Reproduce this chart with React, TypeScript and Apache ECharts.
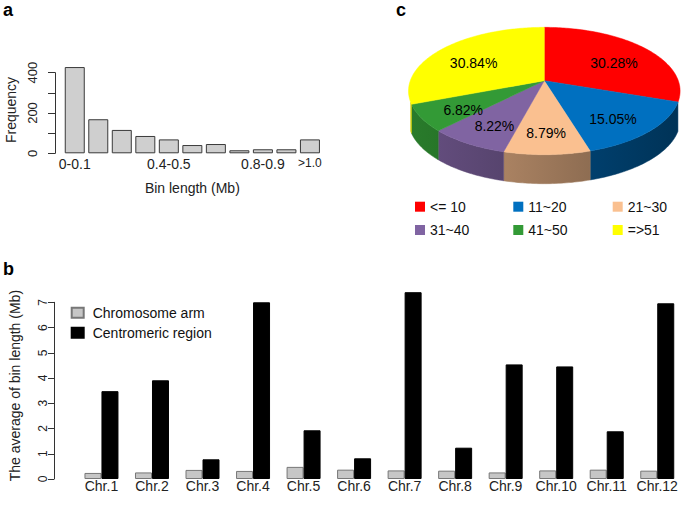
import React, { useEffect, useRef } from "react";
import * as echarts from "echarts";

// ---------- Panel a: histogram of bin lengths ----------
const binCategories = [
  "0-0.1", "0.1-0.2", "0.2-0.3", "0.3-0.4", "0.4-0.5", "0.5-0.6",
  "0.6-0.7", "0.7-0.8", "0.8-0.9", "0.9-1.0", ">1.0",
];
const binFrequency = [428, 169, 116, 86, 69, 41, 46, 15, 20, 20, 69];
const binLabelShown = ["0-0.1", "0.4-0.5", "0.8-0.9", ">1.0"];
const freqTicks = [0, 200, 400];

// ---------- Panel b: average bin length per chromosome ----------
const chromosomes = [
  "Chr.1", "Chr.2", "Chr.3", "Chr.4", "Chr.5", "Chr.6",
  "Chr.7", "Chr.8", "Chr.9", "Chr.10", "Chr.11", "Chr.12",
];
const armLength = [0.24, 0.26, 0.36, 0.32, 0.48, 0.37, 0.34, 0.33, 0.26, 0.34, 0.37, 0.33];
const centromericLength = [3.48, 3.91, 0.78, 7.0, 1.93, 0.82, 7.4, 1.24, 4.54, 4.46, 1.89, 6.96];

// ---------- Panel c: 3D pie ----------
const classNames = ["<= 10", "11~20", "21~30", "31~40", "41~50", "=>51"];
const classShares = [30.28, 15.05, 8.79, 8.22, 6.82, 30.84];
const classColors = ["#FF0000", "#0070C0", "#FAC090", "#8064A2", "#339A36", "#FFFF00"];

const FONT = "'Liberation Sans', Arial, Helvetica, sans-serif";

// pseudo-perspective projection of the pie disk
const PIE = { cx: 544.3, cy: 80.7, A: 134, B: 62, k: 0.162, D: 29, wallK: 0.33 };
function project(theta: number, r: number): [number, number] {
  const u = r * Math.sin(theta);
  const v = -r * Math.cos(theta);
  const d = 1 - PIE.k * v;
  return [PIE.cx + (PIE.A * u) / d, PIE.cy + (PIE.B * v) / d];
}
function hexToRgb(h: string) {
  const n = parseInt(h.slice(1), 16);
  return [(n >> 16) & 255, (n >> 8) & 255, n & 255];
}
function shade(hex: string, x: number) {
  let f = 0.8 - (0.35 * (x - 410)) / 270;
  f = Math.max(0.4, Math.min(0.85, f));
  const [r, g, b] = hexToRgb(hex);
  return `rgb(${Math.round(r * f)},${Math.round(g * f)},${Math.round(b * f)})`;
}

export default function App() {
  const ref = useRef<HTMLDivElement>(null);
  useEffect(() => {
    if (!ref.current) return;
    const chart = echarts.init(ref.current, undefined, { renderer: "svg" });

    const total = classShares.reduce((s, v) => s + v, 0);
    const spans: number[][] = [];
    let acc = 0;
    classShares.forEach((v) => {
      const s = acc / total;
      acc += v;
      spans.push([s, acc / total, v]);
    });

    const visA = Math.acos(-PIE.wallK);
    const visB = 2 * Math.PI - visA;

    const pieSeries = classNames.map((name, i) => ({
      type: "custom",
      name,
      coordinateSystem: "none",
      silent: true,
      itemStyle: { color: classColors[i] },
      data: [spans[i]],
      renderItem: (_params: any, api: any) => {
        const a = api.value(0) * 2 * Math.PI;
        const b = api.value(1) * 2 * Math.PI;
        const pct = api.value(2);
        const color = classColors[i];
        const children: any[] = [];
        // side wall
        const s = Math.max(a, visA);
        const e = Math.min(b, visB);
        if (s < e) {
          const pts: number[][] = [];
          const n = Math.max(2, Math.ceil(((e - s) * 180) / Math.PI));
          for (let j = 0; j <= n; j++) pts.push(project(s + ((e - s) * j) / n, 1));
          for (let j = n; j >= 0; j--) {
            const p = project(s + ((e - s) * j) / n, 1);
            pts.push([p[0], p[1] + PIE.D]);
          }
          const xs = pts.map((p) => p[0]);
          const x0 = Math.min(...xs);
          const x1 = Math.max(...xs);
          children.push({
            type: "polygon",
            shape: { points: pts },
            style: {
              fill: new echarts.graphic.LinearGradient(
                x0, 0, x1 + 0.01, 0,
                [
                  { offset: 0, color: shade(color, x0) },
                  { offset: 1, color: shade(color, x1) },
                ],
                true
              ),
              stroke: shade(color, (x0 + x1) / 2),
              lineWidth: 0.5,
            },
          });
        }
        // top face
        const top: number[][] = [[PIE.cx, PIE.cy]];
        const m = Math.max(2, Math.ceil(((b - a) * 180) / Math.PI));
        for (let j = 0; j <= m; j++) top.push(project(a + ((b - a) * j) / m, 1));
        children.push({
          type: "polygon",
          shape: { points: top },
          style: { fill: color, stroke: color, lineWidth: 0.5 },
        });
        // label
        const lp = project((a + b) / 2, 0.68);
        children.push({
          type: "text",
          style: {
            text: pct.toFixed(2) + "%",
            x: lp[0],
            y: lp[1] + 5,
            fill: "#000",
            fontSize: 14,
            fontFamily: FONT,
            align: "center",
            verticalAlign: "middle",
            textAlign: "center",
            textVerticalAlign: "middle",
          },
        });
        return { type: "group", children };
      },
    }));

    const axisLineStyle = { color: "#333", width: 1 };

    const pieLegendCols = [415, 513.3, 612.7];
    const pieLegendRows = [199.7, 223];
    const pieLegends = classNames.map((n, i) => ({
      orient: "horizontal",
      left: pieLegendCols[i % 3],
      top: pieLegendRows[Math.floor(i / 3)],
      itemWidth: 10,
      itemHeight: 10,
      itemGap: 0,
      selectedMode: false,
      padding: 0,
      textStyle: { fontSize: 14, color: "#111" },
      data: [{ name: n, icon: "rect" }],
    }));

    chart.setOption({
      animation: false,
      textStyle: { fontFamily: FONT },
      title: [
        { text: "a", left: 3, top: 1, padding: 0, textStyle: { fontSize: 18, fontWeight: "bold", color: "#000", fontFamily: FONT } },
        { text: "b", left: 3, top: 260, padding: 0, textStyle: { fontSize: 18, fontWeight: "bold", color: "#000", fontFamily: FONT } },
        { text: "c", left: 396, top: 1, padding: 0, textStyle: { fontSize: 18, fontWeight: "bold", color: "#000", fontFamily: FONT } },
      ],
      legend: [
        {
          orient: "vertical",
          left: 70.7,
          top: 305.7,
          itemWidth: 12,
          itemHeight: 10,
          itemGap: 6,
          selectedMode: false,
          padding: 0,
          textStyle: { fontSize: 14, color: "#111", padding: [0, 0, 0, 4] },
          data: [
            { name: "Chromosome arm", icon: "rect" },
            { name: "Centromeric region", icon: "rect" },
          ],
        },
        ...pieLegends,
      ],
      grid: [
        { left: 63, top: 72.7, width: 258.7, height: 80.6 },
        { left: 71.5, top: 302.3, width: 611, height: 176.7 },
      ],
      xAxis: [
        {
          gridIndex: 0,
          type: "category",
          data: binCategories,
          axisLine: { show: false },
          axisTick: { show: false },
          name: "Bin length (Mb)",
          nameLocation: "middle",
          nameGap: 28,
          nameTextStyle: { fontSize: 14, color: "#222" },
          axisLabel: {
            interval: (_idx: number, val: string) => binLabelShown.includes(val),
            fontSize: 14,
            color: "#222",
            margin: 4,
            formatter: (val: string) => (val === ">1.0" ? "{s|" + val + "}" : val),
            rich: { s: { fontSize: 12, color: "#222" } },
          },
        },
        {
          gridIndex: 1,
          type: "category",
          data: chromosomes,
          axisLine: { show: false },
          axisTick: { show: false },
          axisLabel: { interval: 0, fontSize: 14, color: "#222", margin: 0 },
        },
      ],
      yAxis: [
        {
          gridIndex: 0,
          type: "value",
          min: 0,
          max: 400,
          interval: 100,
          offset: 8,
          splitLine: { show: false },
          axisLine: { show: true, lineStyle: axisLineStyle },
          axisTick: { show: true, length: 7, lineStyle: axisLineStyle },
          axisLabel: {
            rotate: 90,
            fontSize: 13,
            color: "#222",
            margin: 16,
            formatter: (v: number) => (freqTicks.includes(v) ? String(v) : ""),
          },
          name: "Frequency",
          nameLocation: "middle",
          nameGap: 37,
          nameTextStyle: { fontSize: 14, color: "#222", padding: [0, 0, 0, 6] },
        },
        {
          gridIndex: 1,
          type: "value",
          min: 0,
          max: 7,
          interval: 1,
          offset: 22.2,
          splitLine: { show: false },
          axisLine: { show: true, lineStyle: axisLineStyle },
          axisTick: { show: true, length: 6, lineStyle: axisLineStyle },
          axisLabel: { rotate: 90, fontSize: 12, color: "#222", margin: 5 },
          name: "The average of bin length (Mb)",
          nameLocation: "middle",
          nameGap: 32,
          nameTextStyle: { fontSize: 14, color: "#222", padding: [0, 0, 0, 10] },
        },
      ],
      series: [
        {
          type: "bar",
          name: "Frequency",
          xAxisIndex: 0,
          yAxisIndex: 0,
          data: binFrequency,
          barWidth: 20,
          clip: false,
          silent: true,
          itemStyle: { color: "#CFCFCF", borderColor: "#3a3a3a", borderWidth: 1 },
        },
        {
          type: "bar",
          name: "Chromosome arm",
          xAxisIndex: 1,
          yAxisIndex: 1,
          data: armLength,
          barWidth: 17,
          barGap: "0%",
          clip: false,
          silent: true,
          itemStyle: { color: "#C6C6C6", borderColor: "#777", borderWidth: 1 },
        },
        {
          type: "bar",
          name: "Centromeric region",
          xAxisIndex: 1,
          yAxisIndex: 1,
          data: centromericLength,
          barWidth: 17,
          barGap: "0%",
          clip: false,
          silent: true,
          itemStyle: { color: "#000", borderColor: "#000", borderWidth: 1 },
        },
        ...pieSeries,
      ],
    });
    return () => chart.dispose();
  }, []);
  return (
    <div
      ref={ref}
      style={{ position: "fixed", left: 0, top: 0, width: 685, height: 506, background: "#fff" }}
    />
  );
}
